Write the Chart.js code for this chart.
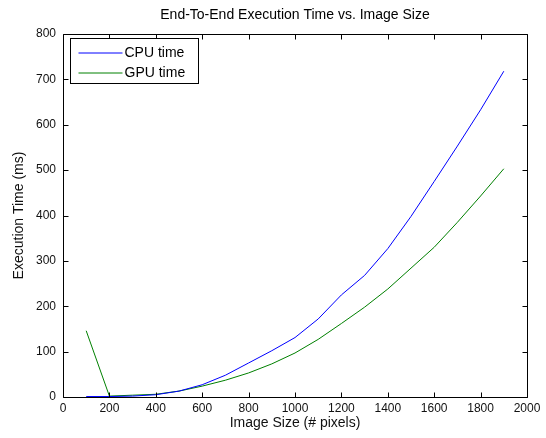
<!DOCTYPE html>
<html>
<head>
<meta charset="utf-8">
<script src="https://cdn.jsdelivr.net/npm/chart.js@4/dist/chart.umd.min.js"></script>
<style>
html,body{margin:0;padding:0;background:#fff;}
#wrap{width:546px;height:438px;position:relative;}
</style>
</head>
<body>
<div id="wrap"><canvas id="c" width="546" height="438"></canvas></div>
<script>
const imageSizes = [100,200,300,400,500,600,700,800,900,1000,1100,1200,1300,1400,1500,1600,1700,1800,1900];
const cpuTime = [1,1,2,5,13,27,48,75,102,131,172,225,268,327,398,475,553,633,718];
const gpuTime = [146,2,4,6,13,24,37,53,73,97,127,162,198,238,284,330,385,443,503];
const seriesLabels = ['CPU time', 'GPU time'];
const xTicks = [0,200,400,600,800,1000,1200,1400,1600,1800,2000];
const yTicks = [0,100,200,300,400,500,600,700,800];

const FONT = "'Liberation Sans', Arial, sans-serif";
const COLORS = ['#0000ff', '#008000'];

const boxPlugin = {
  id: 'boxPlugin',
  beforeDraw(chart) {
    const ctx = chart.ctx;
    ctx.save();
    ctx.fillStyle = '#fff';
    ctx.fillRect(0, 0, chart.width, chart.height);
    ctx.restore();
  },
  afterDraw(chart) {
    const ctx = chart.ctx;
    const a = chart.chartArea;
    const xs = chart.scales.x, ys = chart.scales.y;
    ctx.save();
    ctx.strokeStyle = '#000';
    ctx.lineWidth = 1;
    const L = Math.round(a.left) + 0.5, R = Math.round(a.right) + 0.5;
    const T = Math.round(a.top) + 0.5, B = Math.round(a.bottom) + 0.5;
    ctx.beginPath();
    ctx.rect(L, T, R - L, B - T);
    const tl = 5;
    xTicks.forEach(v => {
      const px = Math.round(xs.getPixelForValue(v)) + 0.5;
      ctx.moveTo(px, B); ctx.lineTo(px, B - tl);
      ctx.moveTo(px, T); ctx.lineTo(px, T + tl);
    });
    yTicks.forEach(v => {
      const py = Math.round(ys.getPixelForValue(v)) + 0.5;
      ctx.moveTo(L, py); ctx.lineTo(L + tl, py);
      ctx.moveTo(R, py); ctx.lineTo(R - tl, py);
    });
    ctx.stroke();

    // legend
    const lx = L + 7, ly = T + 4, lw = 128, lh = 45;
    ctx.fillStyle = '#fff';
    ctx.fillRect(lx, ly, lw, lh);
    ctx.strokeStyle = '#000';
    ctx.strokeRect(lx, ly, lw, lh);
    ctx.font = '14px ' + FONT;
    ctx.textBaseline = 'middle';
    ctx.textAlign = 'left';
    chart.data.datasets.forEach((ds, i) => {
      const yy = Math.round(ly + 14 + i * 20);
      ctx.beginPath();
      ctx.strokeStyle = COLORS[i];
      ctx.moveTo(lx + 8, yy); ctx.lineTo(lx + 52, yy);
      ctx.stroke();
      ctx.fillStyle = '#000';
      ctx.fillText(ds.label, lx + 54, yy + 0.5);
    });
    ctx.restore();
  }
};

new Chart(document.getElementById('c'), {
  type: 'line',
  data: {
    datasets: [
      { label: seriesLabels[0], data: imageSizes.map((x, i) => ({x, y: cpuTime[i]})), borderColor: COLORS[0], borderWidth: 1, pointRadius: 0, tension: 0, fill: false },
      { label: seriesLabels[1], data: imageSizes.map((x, i) => ({x, y: gpuTime[i]})), borderColor: COLORS[1], borderWidth: 1, pointRadius: 0, tension: 0, fill: false }
    ]
  },
  options: {
    responsive: false,
    animation: false,
    devicePixelRatio: 1,
    layout: { padding: { left: 0, right: 19, top: 0, bottom: 0 } },
    plugins: {
      legend: { display: false },
      tooltip: { enabled: false },
      title: {
        display: true,
        fullSize: false,
        text: 'End-To-End Execution Time vs. Image Size',
        color: '#000',
        font: { family: FONT, size: 14, weight: 'normal' },
        padding: { top: 7, bottom: 10.2 }
      }
    },
    scales: {
      x: {
        type: 'linear',
        min: 0, max: 2000,
        afterBuildTicks: s => { s.ticks = xTicks.map(v => ({value: v})); },
        afterFit: s => { s.height = 41; },
        grid: { display: false, drawTicks: false },
        border: { display: false },
        ticks: { color: '#111', font: { family: FONT, size: 12 }, padding: 4, maxRotation: 0, autoSkip: false, callback: v => String(v) },
        title: { display: true, text: 'Image Size (# pixels)', color: '#111', font: { family: FONT, size: 14 }, padding: { top: 0, bottom: 6 } }
      },
      y: {
        type: 'linear',
        min: 0, max: 800,
        afterBuildTicks: s => { s.ticks = yTicks.map(v => ({value: v})); },
        afterFit: s => { s.width = 63; },
        grid: { display: false, drawTicks: false },
        border: { display: false },
        ticks: { color: '#111', font: { family: FONT, size: 12 }, padding: 7, autoSkip: false, callback: v => String(v) },
        title: { display: true, text: 'Execution Time (ms)', color: '#111', font: { family: FONT, size: 14 }, padding: { top: 10.6, bottom: 0 } }
      }
    }
  },
  plugins: [boxPlugin]
});
</script>
</body>
</html>
